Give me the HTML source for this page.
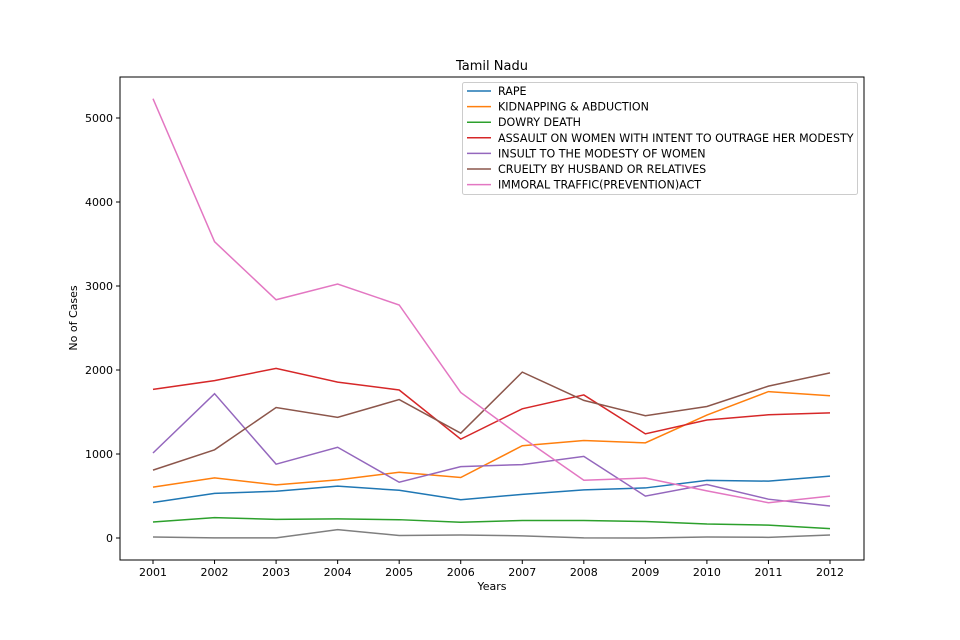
<!DOCTYPE html>
<html><head><meta charset="utf-8"><style>body{margin:0;background:#fff}svg{display:block}text{font-family:"DejaVu Sans","Liberation Sans",sans-serif}</style></head>
<body>
<svg id="chart" width="960" height="640" xmlns="http://www.w3.org/2000/svg"></svg>
<script>
const years = [2001,2002,2003,2004,2005,2006,2007,2008,2009,2010,2011,2012];
const yTicks = [0,1000,2000,3000,4000,5000];
const seriesNames = ["RAPE","KIDNAPPING & ABDUCTION","DOWRY DEATH","ASSAULT ON WOMEN WITH INTENT TO OUTRAGE HER MODESTY","INSULT TO THE MODESTY OF WOMEN","CRUELTY BY HUSBAND OR RELATIVES","IMMORAL TRAFFIC(PREVENTION)ACT"];
const rape = [423,531,556,617,568,456,519,573,596,686,677,737];
const kidnapping = [606,715,632,692,783,720,1098,1160,1133,1464,1743,1693];
const dowry = [191,243,221,227,218,188,208,208,196,166,153,111];
const assault = [1770,1874,2019,1856,1762,1177,1538,1703,1240,1405,1467,1489];
const insult = [1012,1718,879,1080,664,850,874,972,499,637,462,381];
const cruelty = [808,1050,1553,1436,1648,1248,1975,1638,1456,1566,1808,1966];
const immoral = [5230,3527,2836,3023,2774,1733,1196,688,714,561,420,498];
const other = [12,2,2,100,30,36,26,1,0,12,8,36];
const colors = ["#1f77b4","#ff7f0e","#2ca02c","#d62728","#9467bd","#8c564b","#e377c2","#7f7f7f"];
const allSeries = [rape,kidnapping,dowry,assault,insult,cruelty,immoral,other];

const svg = document.getElementById('chart');
const NS = "http://www.w3.org/2000/svg";
function mk(tag, attrs, parent){const e=document.createElementNS(NS,tag);for(const k in attrs)e.setAttribute(k,attrs[k]);(parent||svg).appendChild(e);return e;}
const L=120,R=864,T=77,B=560;
const x = y => 153 + (y-2001)*(830-153)/11;
const yv = v => 538 - v*0.084;

const frame = mk('rect',{x:L,y:T,width:R-L,height:B-T,fill:'none',stroke:'#000','stroke-width':1});



years.forEach(yr=>{
  const t=mk('line',{x1:x(yr),x2:x(yr),y1:B,y2:B+4,stroke:'#000'});
  
  
  const tx=mk('text',{x:x(yr),y:B+16,'font-size':11,'text-anchor':'middle'});
  tx.textContent=yr;
  
  
});
yTicks.forEach(v=>{
  const t=mk('line',{x1:L-4,x2:L,y1:yv(v),y2:yv(v),stroke:'#000'});
  
  
  const tx=mk('text',{x:L-7,y:yv(v)+4,'font-size':11,'text-anchor':'end'});
  tx.textContent=v;
  
  
});

allSeries.forEach((s,i)=>{
  const p=mk('polyline',{points:s.map((v,j)=>x(years[j])+','+yv(v)).join(' '),fill:'none',stroke:colors[i],'stroke-width':1.5});
  
  
});

const title=mk('text',{x:492,y:70,'font-size':13,'text-anchor':'middle'});title.textContent='Tamil Nadu';


const xt=mk('text',{x:492,y:590,'font-size':11,'text-anchor':'middle'});xt.textContent='Years';


const yt=mk('text',{x:0,y:0,'font-size':11,'text-anchor':'middle',transform:'translate(77,318) rotate(-90)'});yt.textContent='No of Cases';



const lg=mk('g',{});


mk('rect',{x:462.5,y:82.5,width:395,height:112,rx:2,fill:'#fff','fill-opacity':0.8,stroke:'#ccc'},lg);
seriesNames.forEach((n,i)=>{
  const yy=91+i*15.6;
  const g=mk('g',{},lg);
  
  
  mk('line',{x1:467,x2:491,y1:yy,y2:yy,stroke:colors[i],'stroke-width':1.5},g);
  const t=mk('text',{x:498,y:yy+4,'font-size':11.1},g);
  t.textContent=n;
});
</script>
</body></html>
